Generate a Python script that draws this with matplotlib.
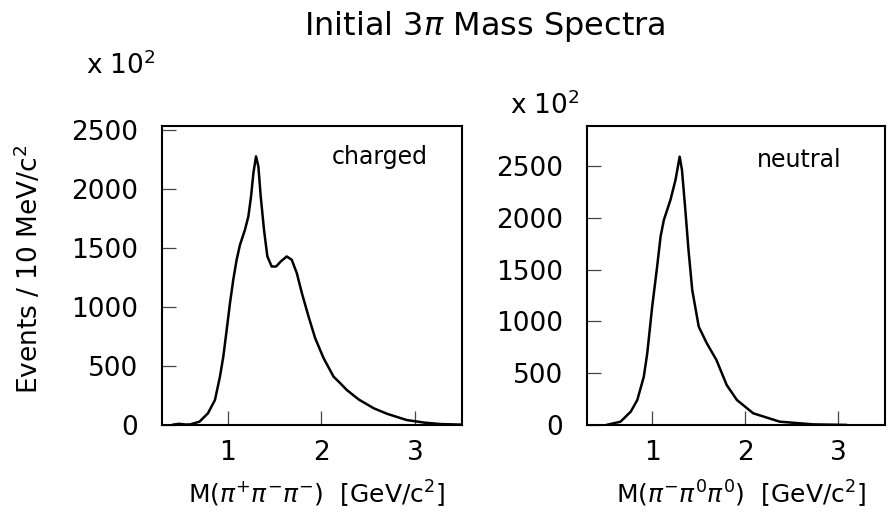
import matplotlib
matplotlib.use('Agg')
import matplotlib.pyplot as plt

# charged 3pi mass spectrum, M(pi+ pi- pi-) in GeV/c^2
m_charged = [0.42, 0.48, 0.55, 0.60, 0.70, 0.79, 0.865, 0.918, 0.954, 0.99, 1.025, 1.06,
             1.096, 1.132, 1.185, 1.221, 1.25, 1.275, 1.303, 1.328, 1.353, 1.388, 1.424,
             1.47, 1.517, 1.567, 1.631, 1.684, 1.738, 1.792, 1.863, 1.934, 2.024, 2.13,
             2.202, 2.27, 2.40, 2.56, 2.70, 2.91, 3.10, 3.27, 3.50]
n_charged = [3, 10, 4, 5, 28, 99, 212, 409, 579, 805, 1031, 1228,
             1398, 1525, 1652, 1764, 1934, 2132, 2273, 2188, 1934, 1652, 1426,
             1341, 1341, 1384, 1426, 1398, 1285, 1116, 918, 734, 565, 409,
             353, 297, 215, 141, 95, 42, 20, 8, 3]

# neutral 3pi mass spectrum, M(pi- pi0 pi0) in GeV/c^2
m_neutral = [0.52, 0.66, 0.77, 0.84, 0.91, 0.947, 1.0, 1.053, 1.09, 1.125, 1.196, 1.25,
             1.295, 1.32, 1.356, 1.39, 1.43, 1.50, 1.587, 1.69, 1.80, 1.91, 2.085, 2.37,
             2.73, 3.08]
n_neutral = [3, 32, 129, 241, 466, 692, 1142, 1528, 1818, 1978, 2172, 2364,
             2590, 2461, 2075, 1689, 1303, 949, 788, 627, 386, 241, 113, 32,
             6, 1]

x_ticks = [1, 2, 3]
y_ticks = [0, 500, 1000, 1500, 2000, 2500]

plt.rcParams['font.family'] = ['DejaVu Sans']
plt.rcParams['mathtext.fontset'] = 'dejavusans'

fig = plt.figure(figsize=(8.9, 5.12), dpi=100)

def setup(ax, ymax):
  ax.set_xlim(0.3, 3.5)
  ax.set_ylim(0, ymax)
  ax.set_xticks(x_ticks)
  ax.set_yticks(y_ticks)
  ax.tick_params(direction='in', length=10, width=0.9, color='#444444',
                 labelsize=19, top=False, right=False)
  ax.tick_params(axis='y', pad=17)
  ax.tick_params(axis='x', pad=11)
  for s in ax.spines.values():
    s.set_linewidth(1.5)

# left panel: charged
ax1 = fig.add_axes([162/890, 87/512, 300/890, 299/512])
ax1.plot(m_charged, n_charged, color='black', lw=1.8)
setup(ax1, 2530)
ax1.text(0.567, 0.895, 'charged', transform=ax1.transAxes, fontsize=17, va='center')

# right panel: neutral
ax2 = fig.add_axes([587/890, 87/512, 298/890, 299/512])
ax2.plot(m_neutral, n_neutral, color='black', lw=1.8)
setup(ax2, 2886)
ax2.text(0.57, 0.885, 'neutral', transform=ax2.transAxes, fontsize=17, va='center')

fig.text(485/890, 1 - 27/512, r'Initial 3$\pi$ Mass Spectra', ha='center', va='center', fontsize=23)
fig.text(121/890, 1 - 66/512, r'x 10$^{2}$', ha='center', va='center', fontsize=19)
fig.text(545/890, 1 - 106/512, r'x 10$^{2}$', ha='center', va='center', fontsize=19)
fig.text(29/890, 1 - 269/512, r'Events / 10 MeV/c$^2$', rotation=90, ha='center', va='center', fontsize=19)
fig.text(317/890, 1 - 494/512, r'M($\pi^{+}\pi^{-}\pi^{-}$)  [GeV/c$^2$]', ha='center', va='center', fontsize=18)
fig.text(741/890, 1 - 494/512, r'M($\pi^{-}\pi^{0}\pi^{0}$)  [GeV/c$^2$]', ha='center', va='center', fontsize=18)

plt.savefig('out.png', dpi=100)
